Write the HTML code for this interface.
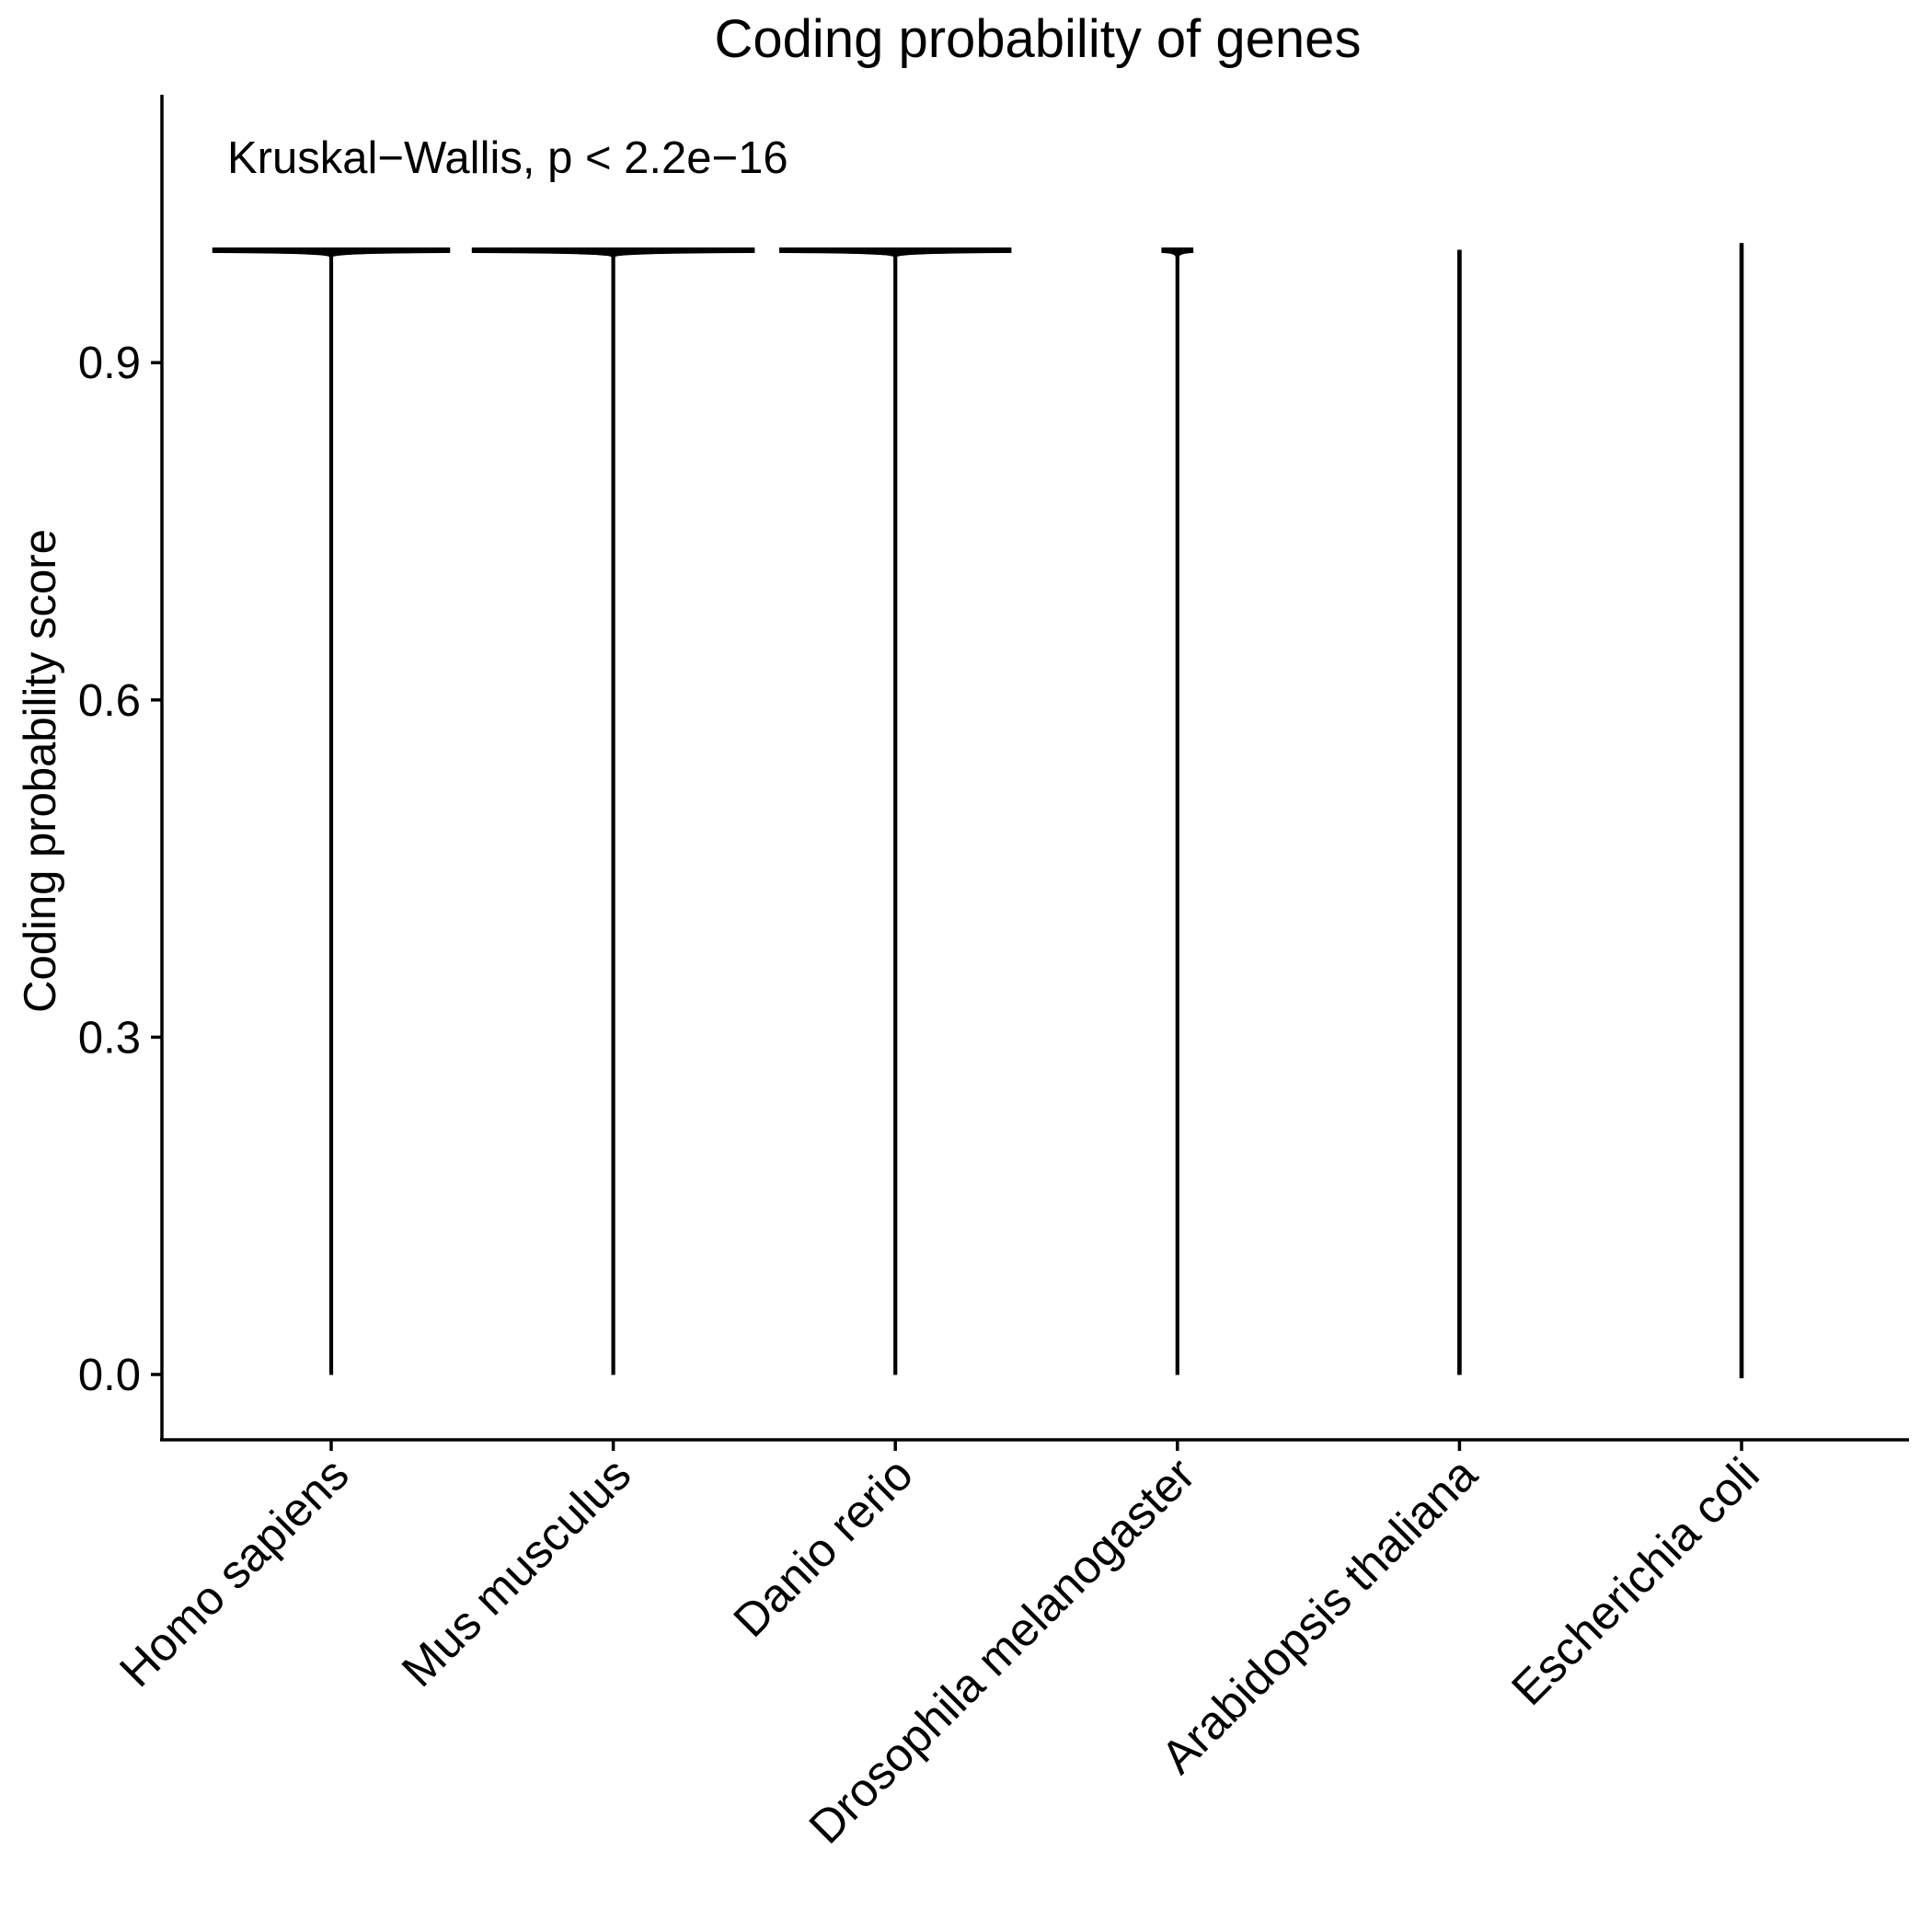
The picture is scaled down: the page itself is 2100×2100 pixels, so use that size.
<!DOCTYPE html>
<html><head><meta charset="utf-8"><style>
html,body{margin:0;padding:0;background:#fff;}
svg{display:block;font-family:"Liberation Sans",Arial,sans-serif;}
</style></head><body>
<svg id="chart" width="2100" height="2100" viewBox="0 0 2100 2100" xmlns="http://www.w3.org/2000/svg">
<text x="1128" y="62" font-size="58" text-anchor="middle">Coding probability of genes</text>
<text x="247" y="188" font-size="49">Kruskal−Wallis, p &lt; 2.2e−16</text>
<text transform="translate(60,838) rotate(-90)" font-size="49" text-anchor="middle">Coding probability score</text>
<g id="yaxis"></g>
<g id="xaxis"></g>
<g id="violins"></g>
<line x1="176" y1="103" x2="176" y2="1566" stroke="#000" stroke-width="3.5"/>
<line x1="174" y1="1565" x2="2075" y2="1565" stroke="#000" stroke-width="3.5"/>
</svg>
<script>
const categories = ["Homo sapiens","Mus musculus","Danio rerio","Drosophila melanogaster","Arabidopsis thaliana","Escherichia coli"];
const minValues = [0, 0, 0, 0, 0, -0.003];
const maxValues = [1.0, 1.0, 1.0, 1.0, 1.0, 1.006];
const peakWidths = [0.42, 0.50, 0.41, 0.055, 0.006, 0.005];
const yTicks = [0.0, 0.3, 0.6, 0.9];
const yTickLabels = ["0.0","0.3","0.6","0.9"];

const NS = "http://www.w3.org/2000/svg";
const y = v => 1494 - 1222 * v;
const bw = 306.6;
const x = i => 360 + bw * i;
function mk(tag, attrs, parent){ const e=document.createElementNS(NS,tag); for(const k in attrs) e.setAttribute(k,attrs[k]); parent.appendChild(e); return e; }

const ya = document.getElementById('yaxis');
yTicks.forEach((t,i)=>{
  const l = mk('line',{x1:164,x2:176,y1:y(t),y2:y(t),stroke:'#000','stroke-width':3.5},ya);
  
  
  const tx = mk('text',{x:153,y:y(t)+17,'font-size':49,'text-anchor':'end'},ya);
  tx.textContent = yTickLabels[i];
  
  
});

const xa = document.getElementById('xaxis');
const vg = document.getElementById('violins');
categories.forEach((c,i)=>{
  const cx = x(i);
  const l = mk('line',{x1:cx,x2:cx,y1:1565,y2:1577,stroke:'#000','stroke-width':3.5},xa);
  
  
  const tx = mk('text',{transform:`translate(${cx+22},${1606}) rotate(-45)`,'font-size':51,'text-anchor':'end'},xa);
  tx.textContent = c;
  
  

  const hw = Math.max(peakWidths[i]*bw, 1.8);
  const yTop = y(maxValues[i]), yBot = y(minValues[i]);
  const lw = 1.6;
  let d;
  if (hw > 6) {
    const flare = y(maxValues[i]-0.006);
    d = `M${cx-lw},${yBot} L${cx-lw},${flare} Q${cx-lw},${yTop+3} ${cx-hw},${yTop+2.5} L${cx-hw},${yTop-2.5} L${cx+hw},${yTop-2.5} L${cx+hw},${yTop+2.5} Q${cx+lw},${yTop+3} ${cx+lw},${flare} L${cx+lw},${yBot} Z`;
  } else {
    d = `M${cx-hw},${yBot} L${cx-hw},${yTop} L${cx+hw},${yTop} L${cx+hw},${yBot} Z`;
  }
  const p = mk('path',{d:d,fill:'#000',stroke:'#000','stroke-width':1,'stroke-linejoin':'round'},vg);
  
  
});
</script>
</body></html>
